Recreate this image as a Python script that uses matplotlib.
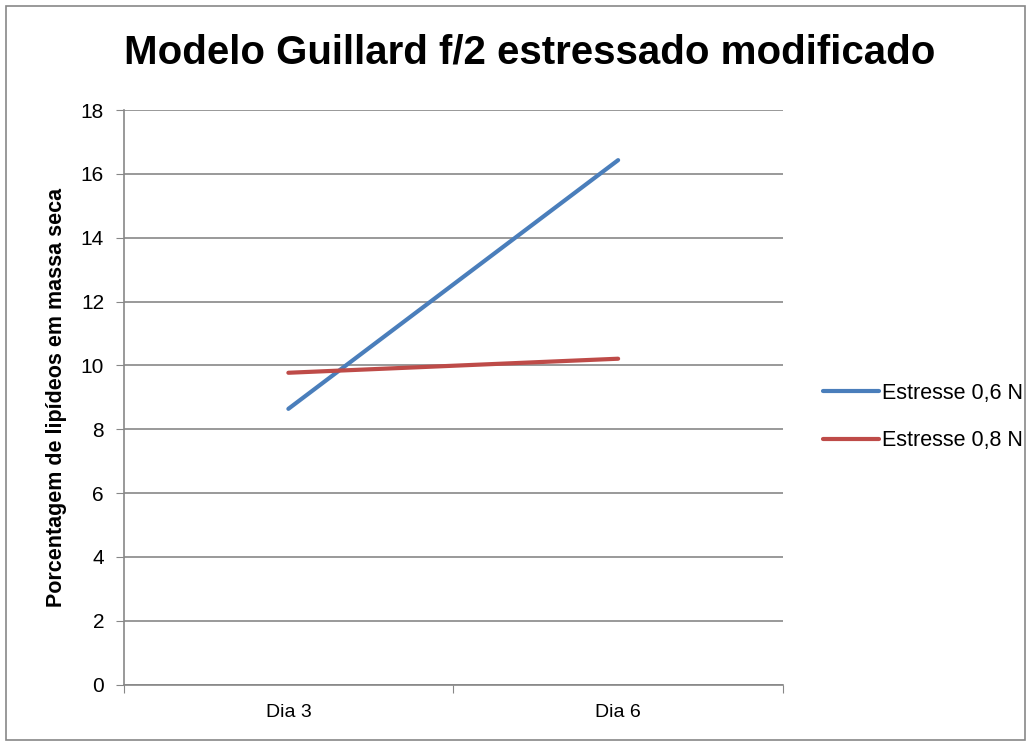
import matplotlib
matplotlib.use("Agg")
import matplotlib.pyplot as plt
from matplotlib.patches import Rectangle

categories = ["Dia 3", "Dia 6"]
serie_06 = [8.64, 16.43]
serie_08 = [9.77, 10.21]
series_names = ["Estresse 0,6 N", "Estresse 0,8 N"]
yticks = [0, 2, 4, 6, 8, 10, 12, 14, 16, 18]

W, H = 1032, 746
fig = plt.figure(figsize=(W / 100, H / 100), dpi=100)
plt.rcParams['font.family'] = ["Liberation Sans", "DejaVu Sans"]

ax = fig.add_axes([123.5 / W, 1 - 684.7 / H, (783 - 123.5) / W, (684.7 - 110) / H])
x = [0.5, 1.5]
ax.plot(x, serie_06, color="#4A7EBB", lw=3, solid_capstyle="round", label=series_names[0])
ax.plot(x, serie_08, color="#BE4B48", lw=3, solid_capstyle="round", label=series_names[1])
ax.set_xlim(0, 2)
ax.set_ylim(0, 18)
ax.set_yticks(yticks)
ax.set_xticks([0, 1, 2])
ax.set_xticklabels([])
ax.set_xticks(x, minor=True)
ax.set_xticklabels(categories, minor=True)
ax.tick_params(axis="x", which="minor", length=0, pad=14, labelsize=14)
ax.tick_params(axis="x", which="major", length=6, direction="out", color="#878787")
ax.tick_params(axis="y", length=6, direction="out", color="#878787", labelsize=15, pad=8)
ax.yaxis.grid(True, color="#878787", lw=1.2)
ax.set_axisbelow(True)
for s in ["top", "right"]:
    ax.spines[s].set_visible(False)
for s in ["left", "bottom"]:
    ax.spines[s].set_color("#878787")
    ax.spines[s].set_linewidth(1.2)
ax.set_ylabel("Porcentagem de lipídeos em massa seca", fontsize=15.5, fontweight="bold", labelpad=10)

fig.text(530 / W, 1 - 52 / H, "Modelo Guillard f/2 estressado modificado", fontsize=29,
         fontweight="bold", ha="center", va="center")

leg = ax.legend(loc="center left", bbox_to_anchor=(804 / W, 1 - 417 / H), bbox_transform=fig.transFigure,
                frameon=False, fontsize=15.5, handlelength=2.6, handletextpad=0.1, labelspacing=1.25)

fig.patches.append(Rectangle((6 / W, 6 / H), (1025 - 6) / W, (740 - 6) / H, transform=fig.transFigure,
                             fill=False, edgecolor="#878787", lw=1.2))
fig.savefig("out.png", dpi=100)
